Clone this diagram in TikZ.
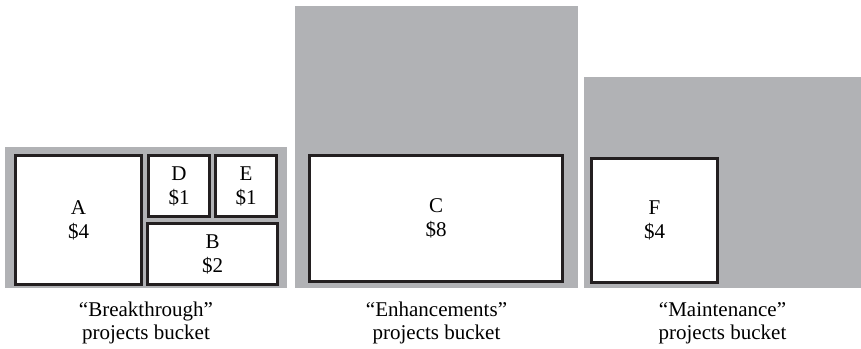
\documentclass[tikz,border=0pt]{standalone}
\usepackage{fontspec}
\setmainfont{Liberation Serif}
\usetikzlibrary{positioning}
\definecolor{bucketgray}{HTML}{B1B2B5}
\definecolor{itemline}{HTML}{231F20}

\begin{document}
\begin{tikzpicture}[x=1pt, y=1pt,
  font=\fontsize{21}{24}\selectfont,
  bucket/.style={fill=bucketgray, inner sep=0pt, outer sep=0pt},
  item/.style={draw=itemline, line width=2.6pt, fill=white, align=center, inner sep=0pt},
  caption/.style={align=center, inner sep=0pt, font=\fontsize{21}{23}\selectfont}]
\useasboundingbox (0,0) rectangle (861,348);

% the three buckets
\foreach \nm/\cx/\cy/\w/\h in {brk/146/130.5/282/141, enh/436.5/201/283/282, mnt/722.5/165.5/277/211}
  \node[bucket, minimum width=\w, minimum height=\h] (\nm) at (\cx,\cy) {};

% projects inside them
\foreach \nm/\cx/\cy/\w/\h/\lbl in {A/78.5/128/126/129/{A\\\$4}, D/179/162/61/61/{D\\\$1},
    E/246/162/61/61/{E\\\$1}, B/212.5/94/130/61/{B\\\$2}, C/436/129.5/253/126/{C\\\$8},
    F/654.5/127.5/126/124/{F\\\$4}}
  \node[item, minimum width=\w, minimum height=\h] (item\nm) at (\cx,\cy) {\lbl};

\node[caption, below=14pt of brk] (capbrk) {``Breakthrough''\\projects bucket};
\node[caption, below=14pt of enh] (capenh) {``Enhancements''\\projects bucket};
\node[caption, below=14pt of mnt] (capmnt) {``Maintenance''\\projects bucket};
\end{tikzpicture}
\end{document}
